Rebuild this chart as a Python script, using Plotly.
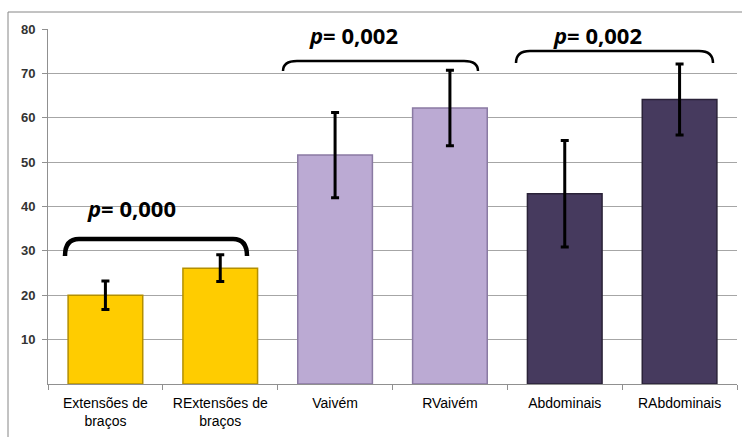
import plotly.graph_objects as go

categories = ["Extensões de<br>braços", "RExtensões de<br>braços", "Vaivém", "RVaivém", "Abdominais", "RAbdominais"]
values = [20.0, 26.1, 51.6, 62.2, 42.9, 64.1]
errors = [3.2, 3.0, 9.6, 8.5, 12.0, 8.0]
bar_colors = ["#FFCC00", "#FFCC00", "#BBAAD3", "#BBAAD3", "#463A5E", "#463A5E"]
bar_lines = ["#B38F00", "#B38F00", "#8A7AA3", "#8A7AA3", "#2A2238", "#2A2238"]
y_ticks = [10, 20, 30, 40, 50, 60, 70, 80]
p_labels = ["0,000", "0,002", "0,002"]

W, H = 742, 437
ML, MR, MT, MB = 48, 5, 29, 53
PW, PH = W - ML - MR, H - MT - MB

fig = go.Figure()
fig.add_trace(go.Bar(
    x=categories, y=values,
    marker=dict(color=bar_colors, line=dict(color=bar_lines, width=1.5)),
    width=0.65,
    error_y=dict(type="data", array=errors, color="black", thickness=3, width=4),
    hoverinfo="skip",
))

def px(x):
    return (x - ML) / PW

def py(y):
    return (H - MB - y) / PH

def bracket(x0, x1, ytop, yend, lw):
    r = 14
    path = (f"M {px(x0)},{py(yend)} Q {px(x0)},{py(ytop)} {px(x0 + r)},{py(ytop)} "
            f"L {px(x1 - r)},{py(ytop)} Q {px(x1)},{py(ytop)} {px(x1)},{py(yend)}")
    return dict(type="path", xref="paper", yref="paper", path=path,
                line=dict(color="black", width=lw))

shapes = [
    bracket(65, 247, 239, 256, 4.5),
    bracket(283, 478, 61, 71, 2.5),
    bracket(516, 713, 51, 63, 2.5),
    dict(type="rect", xref="paper", yref="paper",
         x0=px(8), x1=px(760), y0=py(460), y1=py(12),
         line=dict(color="#868686", width=1)),
]

ann_pos = [(131, 208), (353, 35), (597, 35)]
annotations = []
for (ax, ay), lab in zip(ann_pos, p_labels):
    annotations.append(dict(
        xref="paper", yref="paper", x=px(ax), y=py(ay),
        text=f"<b><i>p</i>= {lab}</b>", showarrow=False,
        font=dict(family="Open Sans, DejaVu Sans", size=22, color="black"),
        xanchor="center", yanchor="middle",
    ))

fig.update_layout(
    width=W, height=H,
    margin=dict(l=ML, r=MR, t=MT, b=MB, autoexpand=False),
    paper_bgcolor="white", plot_bgcolor="white",
    showlegend=False,
    bargap=0.35,
    shapes=shapes,
    annotations=annotations,
    xaxis=dict(
        type="category", showline=True, linecolor="#909090", linewidth=1,
        ticks="outside", tickson="boundaries", ticklen=5, tickcolor="#909090",
        showgrid=False, automargin=False, ticklabelstandoff=6,
        tickfont=dict(family="Liberation Sans", size=14, color="black"),
    ),
    yaxis=dict(
        range=[0, 80], tickvals=y_ticks, showline=True, linecolor="#909090",
        linewidth=1, ticks="outside", ticklen=5, tickcolor="#909090",
        showgrid=True, gridcolor="#A6A6A6", gridwidth=1, zeroline=False,
        automargin=False, ticklabelstandoff=4,
        tickfont=dict(family="Liberation Sans", size=13, color="#333333", weight="bold"),
    ),
)

fig.write_html("out.html", config={"displayModeBar": False},
               post_script="document.body.style.margin='0';document.body.style.overflow='hidden';")
